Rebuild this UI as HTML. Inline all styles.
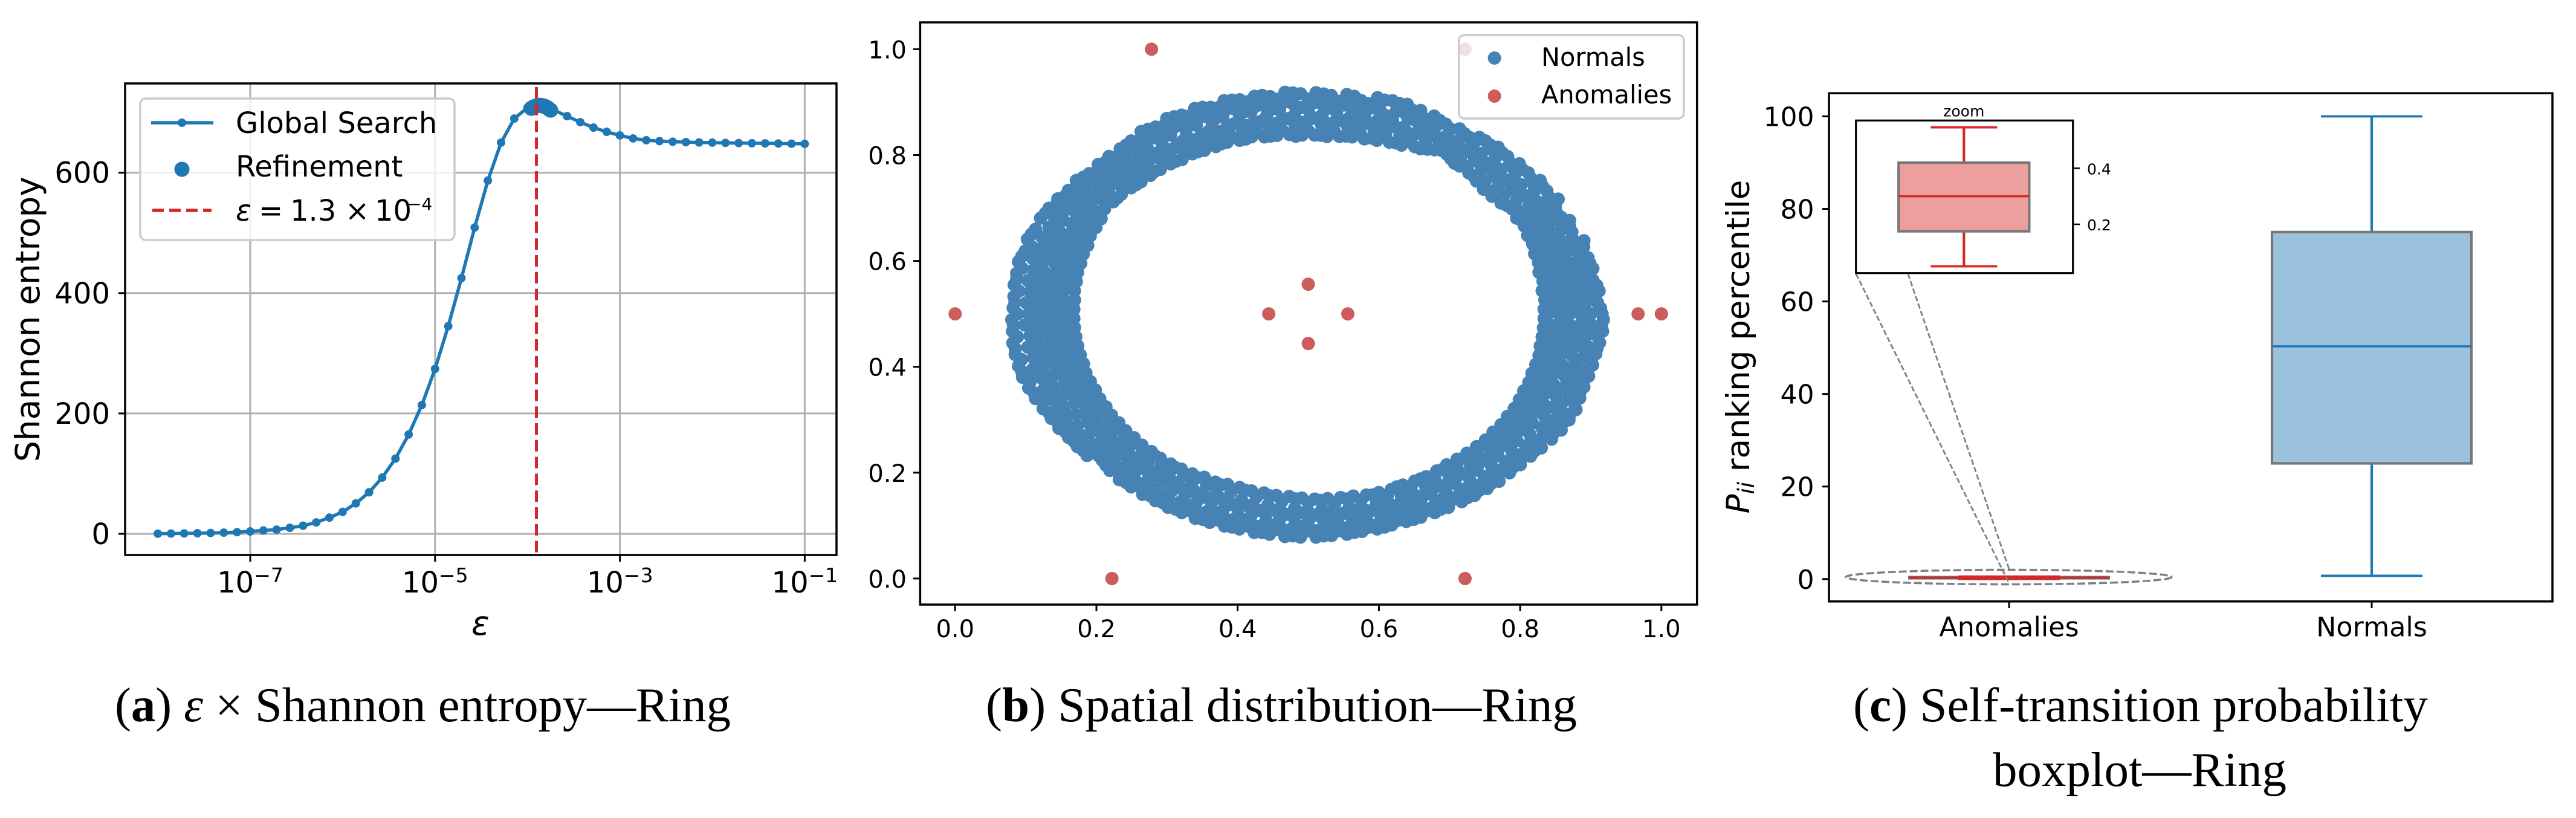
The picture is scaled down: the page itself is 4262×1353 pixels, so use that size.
<!DOCTYPE html>
<html lang="en">
<head>
<meta charset="utf-8">
<title>Ring dataset figure</title>
<style>
html,body{margin:0;padding:0;background:#fff;}
svg{display:block;}
text{font-family:"DejaVu Sans","Liberation Sans",sans-serif;fill:#000;}
.cap{font-family:"Liberation Serif","DejaVu Serif",serif;font-size:80px;}
</style>
</head>
<body>
<svg id="figure" xmlns="http://www.w3.org/2000/svg" width="4262" height="1353" viewBox="0 0 4262 1353">
<rect x="0" y="0" width="4262" height="1353" fill="#fff"/>

<!-- Panel A -->
<g id="panel-a">
  <g id="a-grid"></g>
  <g id="a-marks"></g>
  <rect x="207" y="138" width="1177" height="780" fill="none" stroke="#000" stroke-width="3.5"/>
  <g id="a-ticks"></g>
  <text transform="translate(65,528) rotate(-90)" text-anchor="middle" font-size="55">Shannon entropy</text>
  <text x="795" y="1050" text-anchor="middle" font-size="55" font-style="italic">ε</text>
  <g>
    <rect x="232" y="163" width="520" height="234" rx="9" fill="#fff" fill-opacity="0.8" stroke="#ccc" stroke-width="3.5"/>
    <line x1="250" y1="203" x2="353" y2="203" stroke="#1f77b4" stroke-width="5.5"/>
    <circle cx="301" cy="203" r="7" fill="#1f77b4"/>
    <text x="390" y="220" font-size="48">Global Search</text>
    <circle cx="301" cy="280" r="12.5" fill="#1f77b4"/>
    <text x="390" y="292" font-size="48">Refinement</text>
    <line x1="252" y1="348" x2="350" y2="348" stroke="#d62728" stroke-width="5.5" stroke-dasharray="19 9"/>
    <text x="390" y="365" font-size="48"><tspan x="390" font-style="italic">ε</tspan><tspan x="428">=</tspan><tspan x="480">1.3</tspan><tspan x="571">×</tspan><tspan x="620">10</tspan><tspan x="674" y="347" font-size="28">−4</tspan></text>
  </g>
</g>

<!-- Panel B -->
<g id="panel-b">
  <g id="b-marks"></g>
  <rect x="1522.4" y="37" width="1285.3" height="963" fill="none" stroke="#000" stroke-width="3.5"/>
  <g id="b-ticks"></g>
  <g>
    <rect x="2413.7" y="58" width="372.3" height="138" rx="9" fill="#fff" fill-opacity="0.8" stroke="#ccc" stroke-width="3.5"/>
    <circle cx="2472.6" cy="96" r="11" fill="#4682b4"/>
    <text x="2550" y="109" font-size="41.5">Normals</text>
    <circle cx="2472.6" cy="159" r="11" fill="#cd5c5c"/>
    <text x="2550" y="171" font-size="41.5">Anomalies</text>
  </g>
</g>

<!-- Panel C -->
<g id="panel-c">
  <g id="c-marks"></g>
  <ellipse cx="3323.3" cy="954.5" rx="269.5" ry="12" fill="none" stroke="#808080" stroke-width="3.5" stroke-dasharray="13 5"/>
  <line x1="3070.7" y1="452.7" x2="3322.5" y2="961.7" stroke="#808080" stroke-width="2.8" stroke-dasharray="9 4"/>
  <line x1="3156.7" y1="452.7" x2="3324.4" y2="942.3" stroke="#808080" stroke-width="2.8" stroke-dasharray="9 4"/>
  <rect x="3026" y="154.2" width="1197" height="840.6" fill="none" stroke="#000" stroke-width="3.5"/>
  <g id="c-ticks"></g>
  <text transform="translate(2894,573.6) rotate(-90)" text-anchor="middle" font-size="53"><tspan font-style="italic">P</tspan><tspan font-style="italic" font-size="37" dy="8">ii</tspan><tspan dy="-8"> ranking percentile</tspan></text>
  <g>
    <rect x="3070.7" y="199.3" width="359" height="252.4" fill="#fff"/>
    <g id="inset-marks"></g>
    <rect x="3070.7" y="199.3" width="359" height="252.4" fill="none" stroke="#000" stroke-width="3.2"/>
    <g id="inset-ticks"></g>
    <text x="3249.3" y="192.3" text-anchor="middle" font-size="25">zoom</text>
  </g>
</g>

<!-- Captions -->
<text class="cap" x="190" y="1193" textLength="1019" lengthAdjust="spacingAndGlyphs">(<tspan font-weight="bold">a</tspan>) <tspan font-style="italic">ε</tspan> × Shannon entropy—Ring</text>
<text class="cap" x="1631" y="1193" textLength="978" lengthAdjust="spacingAndGlyphs">(<tspan font-weight="bold">b</tspan>) Spatial distribution—Ring</text>
<text class="cap" x="3066" y="1193" textLength="951" lengthAdjust="spacingAndGlyphs">(<tspan font-weight="bold">c</tspan>) Self-transition probability</text>
<text class="cap" x="3297" y="1300" textLength="486" lengthAdjust="spacingAndGlyphs">boxplot—Ring</text>

<script>
/* ===== Panel A data ===== */
const epsilonValues = [
1e-8,1.389e-8,1.931e-8,2.683e-8,3.728e-8,5.179e-8,7.197e-8,
1e-7,1.389e-7,1.931e-7,2.683e-7,3.728e-7,5.179e-7,7.197e-7,
1e-6,1.389e-6,1.931e-6,2.683e-6,3.728e-6,5.179e-6,7.197e-6,
1e-5,1.389e-5,1.931e-5,2.683e-5,3.728e-5,5.179e-5,7.197e-5,
1e-4,1.389e-4,1.931e-4,2.683e-4,3.728e-4,5.179e-4,7.197e-4,
1e-3,1.389e-3,1.931e-3,2.683e-3,3.728e-3,5.179e-3,7.197e-3,
1e-2,1.389e-2,1.931e-2,2.683e-2,3.728e-2,5.179e-2,7.197e-2,
1e-1];
const entropyValues = [
0.3,0.5,0.7,1,1.4,2,2.8,4,5.5,7,10,13.5,19,27,36.5,50.6,69,93.5,125,165,214,274,345,425,509,587,650,690,708,708,
704,694,684,675,668,662,657,654,652.5,651.5,650.8,650.3,650,649.6,649.3,649,648.8,648.6,648.3,648];
const refineEpsilon = [1.1e-4,1.15e-4,1.2e-4,1.25e-4,1.3e-4,1.35e-4,1.4e-4,1.45e-4,1.5e-4,1.55e-4,1.6e-4,1.65e-4,1.7e-4,1.78e-4];
const refineEntropy = [707,709,710,711,712,712,712,711,711,710,709,708,706,704];
const selectedEpsilon = [1.25e-4];
const entropyXTickExponents = [-7,-5,-3,-1];
const entropyYTicks = [0,200,400,600];

/* ===== Panel B data ===== */
const spatialTicks = [0,0.2,0.4,0.6,0.8,1];
const anomalyPoints = [[0,0.5],[0.278,1],[0.722,1],[0.222,0],[0.722,0],[0.5,0.556],[0.5,0.444],[0.444,0.5],[0.556,0.5],[0.967,0.5],[1,0.5]];
/* normals as [angle in degrees, radius, radius, ...] about the ring centre */
const ringCentre = [0.5,0.5];
const normalSpokes = [
[0,.34,.355,.37,.385,.4,.416],[3,.348,.363,.378,.393,.41],[6,.342,.356,.372,.386,.4,.414],[9,.35,.364,.38,.395,.408],
[12,.342,.358,.372,.388,.402,.412],[15,.35,.366,.38,.396,.41],[18,.344,.36,.375,.39,.41],[21,.352,.368,.384,.4],
[24,.346,.362,.376,.392,.405],[27,.354,.37,.386,.402],[30,.35,.364,.378,.392,.404],[33,.356,.372,.388,.406],
[36,.348,.364,.38,.396,.41],[39,.356,.372,.388,.406],[42,.346,.362,.378,.394,.408],[45,.354,.37,.386,.404],
[48,.35,.366,.382,.396,.41],[51,.358,.374,.39,.41],[54,.352,.368,.384,.4,.412],[57,.36,.376,.392,.406],
[60,.358,.372,.386,.403],[63,.35,.366,.382,.398,.41],[66,.356,.372,.388,.404],[69,.346,.362,.378,.394,.412],
[72,.354,.37,.386,.402,.418],[75,.344,.36,.378,.396,.418],[78,.352,.37,.388,.406],[81,.34,.358,.376,.394,.416],
[84,.348,.366,.384,.404],[87,.338,.358,.376,.396,.416],[90,.346,.366,.386,.406],[93,.336,.356,.376,.396,.418],
[96,.348,.368,.388,.408],[99,.34,.358,.378,.398,.418],[102,.35,.37,.39,.41],[105,.342,.36,.38,.4,.418],
[108,.352,.372,.392,.41],[111,.344,.362,.38,.398,.418],[114,.352,.37,.39,.41],[117,.344,.362,.38,.4,.418],
[120,.352,.37,.39,.41],[123,.344,.36,.378,.396,.416],[126,.352,.37,.388,.406],[129,.346,.362,.378,.394,.41],
[132,.354,.37,.386,.402],[135,.345,.36,.376,.392,.406],[138,.354,.37,.386,.402],[141,.348,.364,.38,.396,.41],
[144,.356,.372,.388,.404],[147,.35,.364,.378,.392,.41],[150,.352,.366,.38,.396,.412],[153,.346,.36,.376,.39,.404,.418],
[156,.354,.37,.386,.402],[159,.344,.358,.374,.388,.404,.42],[162,.352,.366,.382,.398,.412],[165,.343,.358,.372,.388,.404,.42],
[168,.35,.366,.382,.398,.414],[171,.342,.357,.372,.387,.402,.418],[174,.35,.365,.38,.396,.412],[177,.34,.355,.37,.385,.4,.416],
[180,.348,.364,.38,.396,.412],[183,.34,.356,.37,.386,.402,.418],[186,.348,.364,.38,.396,.414],[189,.34,.355,.37,.386,.402,.42],
[192,.348,.364,.38,.398,.415],[195,.34,.356,.372,.388,.404,.42],[198,.348,.364,.38,.396,.414],[201,.34,.355,.37,.386,.402,.416],
[204,.348,.364,.38,.396,.41],[207,.34,.356,.372,.388,.404,.412],[210,.348,.364,.38,.396,.41],[213,.342,.358,.374,.39,.41],
[216,.35,.366,.382,.398,.41],[219,.344,.36,.376,.392,.41],[222,.352,.368,.384,.4],[225,.345,.36,.375,.39,.405],
[228,.352,.368,.384,.402],[231,.345,.36,.376,.392,.41],[234,.354,.37,.386,.404],[237,.346,.362,.378,.394,.41],
[240,.354,.37,.386,.402,.412],[243,.347,.364,.38,.398,.414],[246,.354,.372,.39,.408],[249,.346,.364,.382,.4,.416],
[252,.354,.372,.39,.41],[255,.345,.364,.382,.4,.417],[258,.354,.372,.39,.41],[261,.348,.366,.384,.402,.418],
[264,.356,.374,.392,.41],[267,.35,.368,.386,.404,.42],[270,.356,.374,.392,.41],[273,.353,.37,.388,.404,.42],
[276,.36,.378,.396,.412],[279,.354,.37,.388,.404,.418],[282,.36,.378,.396,.412],[285,.354,.372,.39,.404,.417],
[288,.362,.38,.396,.41],[291,.35,.368,.384,.4,.416],[294,.358,.376,.392,.408],[297,.35,.366,.382,.398,.414],
[300,.358,.374,.39,.406],[303,.35,.366,.382,.398,.414],[306,.358,.374,.39,.412],[309,.35,.364,.38,.396,.412],
[312,.358,.372,.388,.404],[315,.35,.364,.38,.396,.41],[318,.358,.372,.388,.406],[321,.348,.364,.38,.396,.412],
[324,.356,.372,.388,.406],[327,.347,.362,.378,.394,.414],[330,.354,.37,.386,.402,.415],[333,.346,.36,.374,.388,.402,.416],
[336,.352,.368,.384,.4,.412],[339,.344,.358,.372,.388,.402,.412],[342,.35,.366,.382,.398,.41],[345,.342,.356,.372,.388,.41],
[348,.35,.366,.382,.398,.41],[351,.342,.356,.372,.386,.402,.414],[354,.35,.364,.38,.396,.412],[357,.34,.355,.37,.386,.402,.416],
/* second pass of readings between the spokes above */
[1.5,.334,.358,.392,.414],[4.5,.336,.37,.404],[7.5,.334,.36,.39,.412],[10.5,.338,.372,.4],[13.5,.336,.364,.394,.41],[16.5,.34,.372,.402],
[19.5,.34,.366,.396,.414],[22.5,.344,.376,.404],[25.5,.344,.368,.398,.41],[28.5,.348,.378,.4],[31.5,.346,.37,.4,.415],[34.5,.35,.38,.41],
[37.5,.344,.372,.402,.414],[40.5,.342,.376,.41],[43.5,.342,.37,.4,.412],[46.5,.346,.378,.41],[49.5,.35,.374,.404,.414],[52.5,.352,.382,.412],
[55.5,.356,.376,.404],[58.5,.362,.384,.41],[61.5,.354,.38,.408],[64.5,.35,.376,.4,.414],[67.5,.345,.37,.396,.416],[70.5,.344,.374,.404,.42],
[73.5,.342,.368,.39,.42],[76.5,.34,.37,.4,.42],[79.5,.34,.362,.386,.41],[82.5,.338,.368,.398,.418],[85.5,.336,.36,.39,.414],[88.5,.338,.37,.4,.418],
[91.5,.338,.362,.39,.416],[94.5,.34,.37,.402,.42],[97.5,.34,.362,.39,.414],[100.5,.34,.37,.4,.418],[103.5,.344,.366,.392,.416],[106.5,.342,.374,.404,.42],
[109.5,.344,.366,.392,.414],[112.5,.342,.372,.402,.42],[115.5,.342,.366,.394,.416],[118.5,.344,.372,.4,.42],[121.5,.342,.366,.392,.414],[124.5,.344,.372,.4,.418],
[127.5,.344,.368,.396,.412],[130.5,.344,.374,.402,.41],[133.5,.344,.37,.396,.41],[136.5,.346,.374,.4,.41],[139.5,.348,.37,.396,.408],[142.5,.348,.376,.402,.414],
[145.5,.35,.372,.398,.412],[148.5,.344,.37,.4,.416],[151.5,.342,.37,.396,.418],[154.5,.342,.366,.398,.42],[157.5,.338,.368,.394,.418],[160.5,.338,.362,.396,.422],
[163.5,.336,.366,.392,.418],[166.5,.336,.36,.394,.422],[169.5,.334,.364,.392,.42],[172.5,.334,.36,.394,.42],[175.5,.332,.364,.39,.418],[178.5,.332,.358,.392,.418],
[181.5,.332,.362,.39,.42],[184.5,.332,.36,.392,.42],[187.5,.332,.364,.392,.422],[190.5,.332,.36,.394,.422],[193.5,.332,.364,.394,.422],[196.5,.332,.36,.396,.422],
[199.5,.334,.366,.392,.42],[202.5,.334,.36,.394,.418],[205.5,.334,.366,.394,.416],[208.5,.336,.36,.392,.414],[211.5,.336,.368,.4,.414],[214.5,.338,.364,.396,.412],
[217.5,.338,.37,.402,.412],[220.5,.34,.366,.396,.412],[223.5,.34,.372,.402],[226.5,.342,.368,.396,.408],[229.5,.342,.372,.402,.412],[232.5,.344,.37,.4,.412],
[235.5,.344,.374,.404,.414],[238.5,.344,.37,.398,.414],[241.5,.344,.376,.406,.416],[244.5,.342,.372,.4,.416],[247.5,.344,.376,.406,.418],[250.5,.342,.37,.398,.418],
[253.5,.342,.376,.406,.418],[256.5,.344,.372,.4,.418],[259.5,.344,.378,.408,.42],[262.5,.346,.374,.402,.42],[265.5,.346,.38,.41,.422],[268.5,.348,.376,.402,.422],
[271.5,.35,.38,.41,.422],[274.5,.35,.376,.4,.42],[277.5,.35,.38,.408,.42],[280.5,.35,.378,.4,.418],[283.5,.352,.382,.41,.418],[286.5,.352,.376,.4,.416],
[289.5,.352,.382,.406,.416],[292.5,.35,.376,.398,.416],[295.5,.35,.38,.406,.416],[298.5,.35,.374,.398,.416],[301.5,.348,.378,.404,.416],[304.5,.346,.372,.398,.416],
[307.5,.346,.376,.404,.416],[310.5,.346,.372,.398,.416],[313.5,.346,.376,.402,.414],[316.5,.346,.37,.396,.414],[319.5,.344,.376,.402,.414],[322.5,.344,.37,.398,.416],
[325.5,.342,.374,.404,.418],[328.5,.342,.37,.398,.42],[331.5,.34,.372,.404,.42],[334.5,.338,.366,.396,.42],[337.5,.338,.37,.402,.416],[340.5,.336,.364,.394,.414],
[343.5,.336,.368,.4,.414],[346.5,.336,.362,.392,.414],[349.5,.334,.368,.4,.414],[352.5,.334,.362,.392,.416],[355.5,.334,.366,.398,.418],[358.5,.334,.36,.392,.418]];

/* ===== Panel C data ===== */
const boxCategories = ['Anomalies','Normals'];
const boxPositions = [1,2];
const boxWhiskerLow = [0.05,0.7];
const boxQ1 = [0.175,25];
const boxMedian = [0.3,50.3];
const boxQ3 = [0.42,75];
const boxWhiskerHigh = [0.546,100];
const boxYTicks = [0,20,40,60,80,100];
const insetYTicks = [0.2,0.4];

/* ===== Axis functions ===== */
const xA = v => 414 + (Math.log10(v) + 7) * 152.9;
const yA = v => 883 - v * 0.9955;
const xB = v => 1580.3 + v * 1168.5;
const yB = v => 956.9 - v * 875.5;
const xC = v => 3324 + (v - 1) * 600;
const yC = v => 957.8 - v * 7.653;
const xI = v => 3249.3 + (v - 1) * 393;
const yI = v => 278.3 - (v - 0.4) * 463.5;

function add(parent, tag, attrs, text) {
  const node = document.createElementNS('http://www.w3.org/2000/svg', tag);
  for (const key in attrs) node.setAttribute(key, attrs[key]);
  if (text !== undefined) node.textContent = text;
  parent.appendChild(node);
  return node;
}
const groupOf = id => document.getElementById(id);
const black = '#000';
let el;

/* ----- Panel A ----- */
const aGrid = groupOf('a-grid'), aMarks = groupOf('a-marks'), aTicks = groupOf('a-ticks');
entropyXTickExponents.forEach(e => {
  const x = xA(Math.pow(10, e));
  el = add(aGrid, 'line', {x1:x, x2:x, y1:138, y2:918, stroke:'#b0b0b0', 'stroke-width':3});
  
  
  el = add(aTicks, 'line', {x1:x, x2:x, y1:918, y2:929, stroke:black, 'stroke-width':3});
  
  
  el = add(aTicks, 'text', {x:x, y:980, 'text-anchor':'middle', 'font-size':48});
  
  
  add(el, 'tspan', {}, '10');
  add(el, 'tspan', {'font-size':33, dy:-17}, '\u2212' + Math.abs(e));
});
entropyYTicks.forEach(v => {
  const y = yA(v);
  el = add(aGrid, 'line', {x1:207, x2:1384, y1:y, y2:y, stroke:'#b0b0b0', 'stroke-width':3});
  
  
  el = add(aTicks, 'line', {x1:196, x2:207, y1:y, y2:y, stroke:black, 'stroke-width':3});
  
  
  el = add(aTicks, 'text', {x:182, y:y + 17, 'text-anchor':'end', 'font-size':48}, String(v));
  
  
});
el = add(aMarks, 'polyline', {
  points: epsilonValues.map((v, i) => xA(v) + ',' + yA(entropyValues[i])).join(' '),
  fill:'none', stroke:'#1f77b4', 'stroke-width':5.5, 'stroke-linejoin':'round'
});


epsilonValues.forEach((v, i) => {
  el = add(aMarks, 'circle', {cx:xA(v), cy:yA(entropyValues[i]), r:7, fill:'#1f77b4'});
  
  
});
refineEpsilon.forEach((v, i) => {
  el = add(aMarks, 'circle', {cx:xA(v), cy:yA(refineEntropy[i]), r:12.5, fill:'#1f77b4'});
  
  
});
el = add(aMarks, 'line', {x1:xA(selectedEpsilon[0]), x2:xA(selectedEpsilon[0]), y1:144, y2:918, stroke:'#d62728', 'stroke-width':5, 'stroke-dasharray':'19 8.8'});



/* ----- Panel B ----- */
const bMarks = groupOf('b-marks'), bTicks = groupOf('b-ticks');
spatialTicks.forEach(v => {
  el = add(bTicks, 'line', {x1:xB(v), x2:xB(v), y1:1000, y2:1011, stroke:black, 'stroke-width':3});
  
  
  el = add(bTicks, 'text', {x:xB(v), y:1054, 'text-anchor':'middle', 'font-size':40}, v.toFixed(1));
  
  
  el = add(bTicks, 'line', {x1:1511, x2:1522, y1:yB(v), y2:yB(v), stroke:black, 'stroke-width':3});
  
  
  el = add(bTicks, 'text', {x:1500, y:yB(v) + 15, 'text-anchor':'end', 'font-size':40}, v.toFixed(1));
  
  
});
normalSpokes.forEach(spoke => {
  const angle = spoke[0] * Math.PI / 180;
  spoke.slice(1).forEach(radius => {
    const px = ringCentre[0] + radius * Math.cos(angle);
    const py = ringCentre[1] + radius * Math.sin(angle);
    el = add(bMarks, 'circle', {cx:xB(px), cy:yB(py), r:11, fill:'#4682b4'});
    
    
  });
});
anomalyPoints.forEach(p => {
  el = add(bMarks, 'circle', {cx:xB(p[0]), cy:yB(p[1]), r:11, fill:'#cd5c5c'});
  
  
});

/* ----- Panel C ----- */
const cMarks = groupOf('c-marks'), cTicks = groupOf('c-ticks');
const insetMarks = groupOf('inset-marks'), insetTicks = groupOf('inset-ticks');
const boxColours = ['#d62728','#1f77b4'];
const boxFills = ['#ed9e9e','#9ac2dd'];
function drawBox(group, i, xs, ys, unitPx, label) {
  const colour = boxColours[i], cx = xs(boxPositions[i]);
  const halfBox = 0.275 * unitPx, halfCap = 0.14 * unitPx;
  el = add(group, 'line', {x1:cx, x2:cx, y1:ys(boxWhiskerLow[i]), y2:ys(boxQ1[i]), stroke:colour, 'stroke-width':4.2});
  
  
  el = add(group, 'line', {x1:cx, x2:cx, y1:ys(boxQ3[i]), y2:ys(boxWhiskerHigh[i]), stroke:colour, 'stroke-width':4.2});
  
  
  el = add(group, 'rect', {x:cx - halfBox, y:ys(boxQ3[i]), width:halfBox * 2, height:ys(boxQ1[i]) - ys(boxQ3[i]), fill:boxFills[i], stroke:'#777', 'stroke-width':4.2});
  
  
  el = add(group, 'line', {x1:cx - halfBox, x2:cx + halfBox, y1:ys(boxMedian[i]), y2:ys(boxMedian[i]), stroke:colour, 'stroke-width':3.5});
  
  
  el = add(group, 'line', {x1:cx - halfCap, x2:cx + halfCap, y1:ys(boxWhiskerLow[i]), y2:ys(boxWhiskerLow[i]), stroke:colour, 'stroke-width':3.8});
  
  
  el = add(group, 'line', {x1:cx - halfCap, x2:cx + halfCap, y1:ys(boxWhiskerHigh[i]), y2:ys(boxWhiskerHigh[i]), stroke:colour, 'stroke-width':3.8});
  
  
}
drawBox(cMarks, 0, xC, yC, 600, 'anomalies');
drawBox(cMarks, 1, xC, yC, 600, 'normals');
drawBox(insetMarks, 0, xI, yI, 393, 'inset-anomalies');
boxCategories.forEach((name, i) => {
  const x = xC(boxPositions[i]);
  el = add(cTicks, 'line', {x1:x, x2:x, y1:994.8, y2:1006, stroke:black, 'stroke-width':3});
  
  
  el = add(cTicks, 'text', {x:x, y:1052.3, 'text-anchor':'middle', 'font-size':44.4}, name);
  
  
});
boxYTicks.forEach(v => {
  el = add(cTicks, 'line', {x1:3015, x2:3026, y1:yC(v), y2:yC(v), stroke:black, 'stroke-width':3});
  
  
  el = add(cTicks, 'text', {x:3001.5, y:yC(v) + 16, 'text-anchor':'end', 'font-size':44}, String(v));
  
  
});
insetYTicks.forEach(v => {
  el = add(insetTicks, 'line', {x1:3430, x2:3441, y1:yI(v), y2:yI(v), stroke:black, 'stroke-width':2.5});
  
  
  el = add(insetTicks, 'text', {x:3453, y:yI(v) + 10, 'font-size':25}, v.toFixed(1));
  
  
});
</script>
</svg>
</body>
</html>
